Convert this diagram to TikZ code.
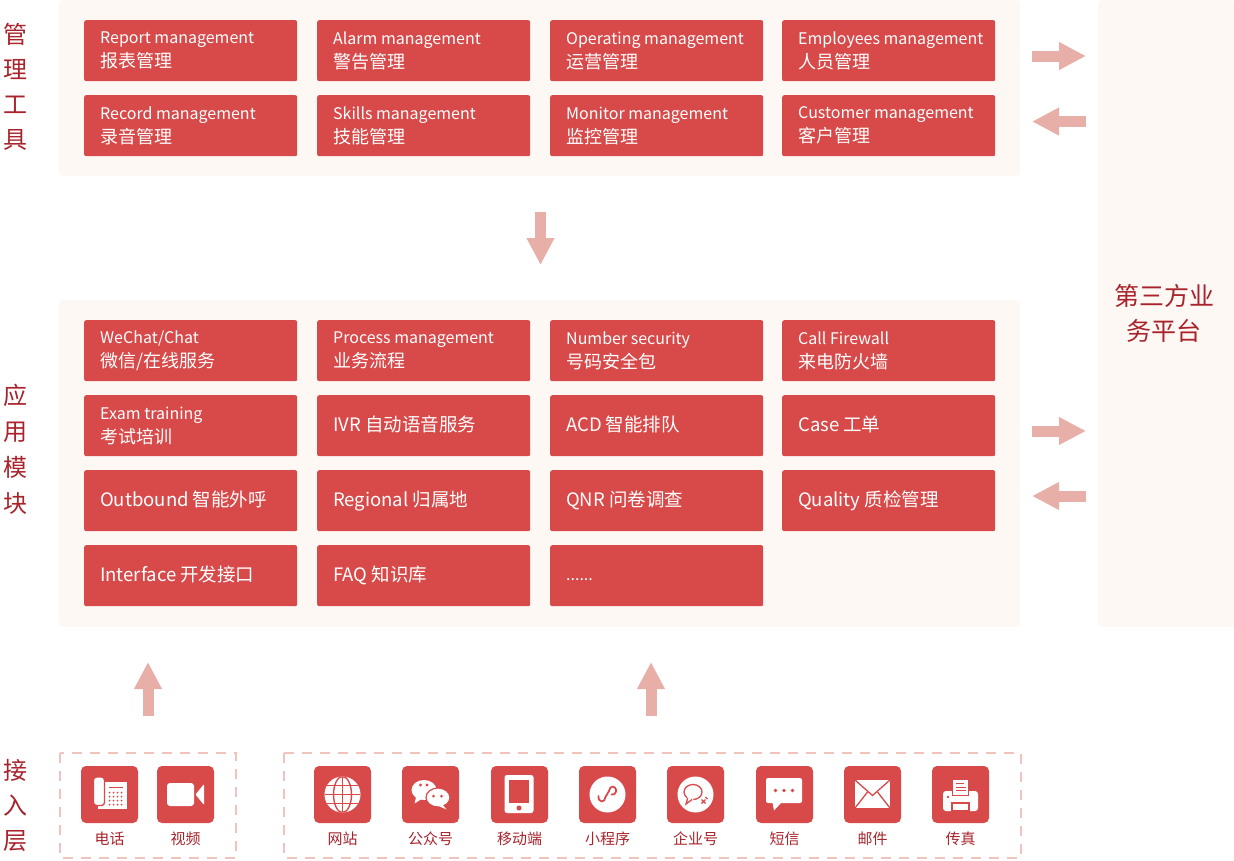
\documentclass[tikz,border=0pt]{standalone}
\usepackage{fontspec}
\setmainfont{Noto Sans CJK SC}
\usetikzlibrary{arrows.meta}
\definecolor{boxred}{HTML}{D84A4A}
\definecolor{arrowpink}{HTML}{E8AEA8}
\definecolor{panelbg}{HTML}{FEF8F5}
\definecolor{titlered}{HTML}{A8232B}
\definecolor{dashpink}{HTML}{F0C3BD}
\tikzset{
  box/.style={fill=boxred, rounded corners=2pt, minimum width=213pt, minimum height=61pt, inner sep=0pt, anchor=north west},
  boxtext/.style={anchor=west, align=left, text=white, inner sep=0pt, font=\fontsize{16}{24}\selectfont},
  boxone/.style={boxtext, font=\fontsize{18.5}{24}\selectfont},
  panel/.style={fill=panelbg, rounded corners=4pt, inner sep=0pt, anchor=north west},
  titletext/.style={text=titlered, align=center, inner sep=0pt},
  blockarrow/.style={draw=arrowpink, line width=11pt, -{Triangle[width=26pt,length=27pt]}},
  dashbox/.style={draw=dashpink, line width=2pt, dash pattern=on 10pt off 8pt},
  iconbox/.style={fill=boxred, rounded corners=5pt, minimum size=57pt, inner sep=0pt},
  iconlabel/.style={text=titlered, inner sep=0pt, font=\fontsize{15}{18}\selectfont},
  redline/.style={draw=boxred, line width=1.3pt}
}
\newcommand\mkbox[5]{\node[box] (#1) at (#2,#3) {};
  \node[boxtext] (#1t) at ([xshift=16pt]#1.west) {{\fontsize{16}{24}\selectfont #4}\\\fontsize{18}{24}\selectfont #5};}
\newcommand\mkboxone[4]{\node[box] (#1) at (#2,#3) {};
  \node[boxone] (#1t) at ([xshift=16pt]#1.west) {\vphantom{Ig}#4};}
\begin{document}
\begin{tikzpicture}[x=1pt,y=-1pt]
\useasboundingbox (0,0) rectangle (1234,860);
% panels
\node[panel, minimum width=961pt, minimum height=176pt] (toppanel) at (59,0) {};
\node[panel, minimum width=961pt, minimum height=327pt] (midpanel) at (59,300) {};
\node[panel, minimum width=136pt, minimum height=627pt] (rightpanel) at (1098,0) {};
% titles
\node[titletext, font=\fontsize{24}{35}\selectfont] (t1) at (15,87) {管\\理\\工\\具};
\node[titletext, font=\fontsize{24}{36}\selectfont] (t2) at (15,449) {应\\用\\模\\块};
\node[titletext, font=\fontsize{24}{35}\selectfont] (t3) at (15,805) {接\\入\\层};
\node[titletext, font=\fontsize{25}{35}\selectfont] (t4) at (1164,313) {第三方业\\务平台};
% top boxes
\mkbox{a1}{84}{20}{Report management}{报表管理}
\mkbox{a2}{317}{20}{Alarm management}{警告管理}
\mkbox{a3}{550}{20}{Operating management}{运营管理}
\mkbox{a4}{782}{20}{Employees management}{人员管理}
\mkbox{a5}{84}{95}{Record management}{录音管理}
\mkbox{a6}{317}{95}{Skills management}{技能管理}
\mkbox{a7}{550}{95}{Monitor management}{监控管理}
\mkbox{a8}{782}{95}{Customer management}{客户管理}
% middle boxes
\mkbox{b1}{84}{320}{WeChat/Chat}{微信/在线服务}
\mkbox{b2}{317}{320}{Process management}{业务流程}
\mkbox{b3}{550}{320}{Number security}{号码安全包}
\mkbox{b4}{782}{320}{Call Firewall}{来电防火墙}
\mkbox{b5}{84}{395}{Exam training}{考试培训}
\mkboxone{b6}{317}{395}{IVR 自动语音服务}
\mkboxone{b7}{550}{395}{ACD 智能排队}
\mkboxone{b8}{782}{395}{Case 工单}
\mkboxone{b9}{84}{470}{Outbound 智能外呼}
\mkboxone{b10}{317}{470}{Regional 归属地}
\mkboxone{b11}{550}{470}{QNR 问卷调查}
\mkboxone{b12}{782}{470}{Quality 质检管理}
\mkboxone{b13}{84}{545}{Interface 开发接口}
\mkboxone{b14}{317}{545}{FAQ 知识库}
\mkboxone{b15}{550}{545}{\fontsize{16}{24}\selectfont ......}
% arrows
\coordinate (p1) at (1032,56); \coordinate (p2) at (1086,56);
\coordinate (p3) at (1086,121.5); \coordinate (p4) at (1032,121.5);
\coordinate (p5) at (1032,431); \coordinate (p6) at (1086,431);
\coordinate (p7) at (1086,496); \coordinate (p8) at (1032,496);
\coordinate (d1) at (540.5,212); \coordinate (d2) at (540.5,265);
\coordinate (u1) at (148,716); \coordinate (u2) at (148,662);
\coordinate (u3) at (651,716); \coordinate (u4) at (651,662);
\draw[blockarrow] (p1) -- (p2);
\draw[blockarrow] (p3) -- (p4);
\draw[blockarrow] (p5) -- (p6);
\draw[blockarrow] (p7) -- (p8);
\draw[blockarrow] (d1) -- (d2);
\draw[blockarrow] (u1) -- (u2);
\draw[blockarrow] (u3) -- (u4);
% dashed groups
\draw[dashbox] (59.5,752.5) rectangle (235.5,857.5);
\draw[dashbox] (283.5,752.5) rectangle (1020.5,857.5);
% icons
\foreach \n/\x/\lab in {i1/109.5/电话, i2/185.5/视频, i3/342.5/网站, i4/430.5/公众号, i5/519.5/移动端, i6/607.5/小程序, i7/695.5/企业号, i8/784.5/短信, i9/872.5/邮件, i10/960.5/传真}{
  \node[iconbox] (\n) at (\x,794.5) {};
  \node[iconlabel] (\n l) at (\x,839) {\lab};
}
% phone
\begin{scope}[shift={(i1.center)}]
  \fill[white] (-12,-12.5) rectangle (17.5,14.5);
  \filldraw[fill=white, draw=boxred, line width=1.3pt, rounded corners=3pt] (-16,-17.5) rectangle (-5,11);
  \draw[boxred, line width=1pt] (-1,-7) -- (13,-7);
  \foreach \a in {0,4,8,12}{\foreach \b in {-2,2,6,10}{\fill[boxred] (\a,\b) circle (1pt);}}
\end{scope}
% video
\begin{scope}[shift={(i2.center)}]
  \fill[white, rounded corners=3pt] (-18.5,-11.5) rectangle (8.5,11.5);
  \fill[white, rounded corners=1pt] (10,0) -- (18.5,-10.5) -- (18.5,10.5) -- cycle;
\end{scope}
% globe
\begin{scope}[shift={(i3.center)}]
  \fill[white] (0,0) circle (18);
  \begin{scope}
    \clip (0,0) circle (18);
    \draw[boxred, line width=1.4pt] (0,-18) -- (0,18);
    \draw[boxred, line width=1.4pt] (0,0) ellipse (9 and 18);
    \draw[boxred, line width=1.4pt] (-18,0) -- (18,0);
    \draw[boxred, line width=1.4pt] (-18,-9) -- (18,-9);
    \draw[boxred, line width=1.4pt] (-18,9) -- (18,9);
  \end{scope}
\end{scope}
% wechat
\begin{scope}[shift={(i4.center)}]
  \fill[white] (-6.5,-4.5) ellipse (12.5 and 10);
  \fill[white] (-14,1) -- (-16,9) -- (-8,4) -- cycle;
  \filldraw[fill=white, draw=boxred, line width=1.2pt] (7.5,3) ellipse (12 and 9.5);
  \fill[white] (12,10) -- (16,15) -- (8,11.5) -- cycle;
  \fill[boxred] (-10,-9.5) circle (1.6); \fill[boxred] (-3.5,-9.5) circle (1.6);
  \fill[boxred] (3,1.5) circle (1.5); \fill[boxred] (11,1.5) circle (1.5);
\end{scope}
% tablet
\begin{scope}[shift={(i5.center)}]
  \fill[white, rounded corners=2.5pt] (-15,-19.5) rectangle (14,18.5);
  \fill[boxred] (-10.5,-14.5) rectangle (9.5,8.5);
  \fill[boxred] (-0.5,13.5) circle (2.5);
\end{scope}
% mini program
\begin{scope}[shift={(i6.center)}]
  \fill[white] (0,0) circle (18);
  \draw[boxred, line width=1.8pt, line cap=round] (-9,1.5) .. controls (-9.5,8.5) and (-2.5,8.5) .. (-2,2.5) -- (1.5,-3.5) .. controls (2,-9.5) and (9,-9.5) .. (8.5,-3) .. controls (8.3,-0.5) and (6,0.5) .. (4,0);
\end{scope}
% enterprise
\begin{scope}[shift={(i7.center)}]
  \fill[white] (0,0) circle (18);
  \draw[boxred, line width=1.3pt] (-2.5,-2.5) ellipse (9 and 7.5);
  \fill[white] (-8,2) -- (-10,10) -- (-2,5) -- cycle;
  \draw[boxred, line width=1.3pt] (-7.8,3.5) -- (-9.5,9.5) -- (-3.5,5);
  \draw[boxred, line width=1.1pt] (6,5) -- (10,9) (10,5) -- (6,9) (10,2.5) -- (12,4.5);
\end{scope}
% sms
\begin{scope}[shift={(i8.center)}]
  \fill[white, rounded corners=2pt] (-18.5,-16.5) rectangle (17.5,8.5);
  \fill[white] (-12,8) -- (-10.5,16) -- (-3,8) -- cycle;
  \fill[boxred] (-9,-4) circle (1.8); \fill[boxred] (-0.5,-4) circle (1.8); \fill[boxred] (8,-4) circle (1.8);
\end{scope}
% mail
\begin{scope}[shift={(i9.center)}]
  \fill[white] (-17.5,-14.5) rectangle (17.5,13.5);
  \draw[redline] (-17.5,-14.5) -- (0,1) -- (17.5,-14.5);
  \draw[redline] (-17.5,13.5) -- (-5,-2.5);
  \draw[redline] (17.5,13.5) -- (5,-2.5);
\end{scope}
% fax / printer
\begin{scope}[shift={(i10.center)}]
  \fill[white, rounded corners=3pt] (-17.5,-3.5) rectangle (17.5,16.5);
  \filldraw[fill=white, draw=boxred, line width=1pt] (-8,-15) rectangle (8,0.5);
  \draw[boxred, line width=1pt] (-5,-11) -- (3,-11) (-5,-7.5) -- (5,-7.5) (-5,-4) -- (5,-4);
  \filldraw[fill=white, draw=boxred, line width=1.2pt] (-8.5,8.5) rectangle (8.5,16.5);
  \fill[boxred] (-12.5,2.5) circle (1.3);
\end{scope}
\end{tikzpicture}
\end{document}
